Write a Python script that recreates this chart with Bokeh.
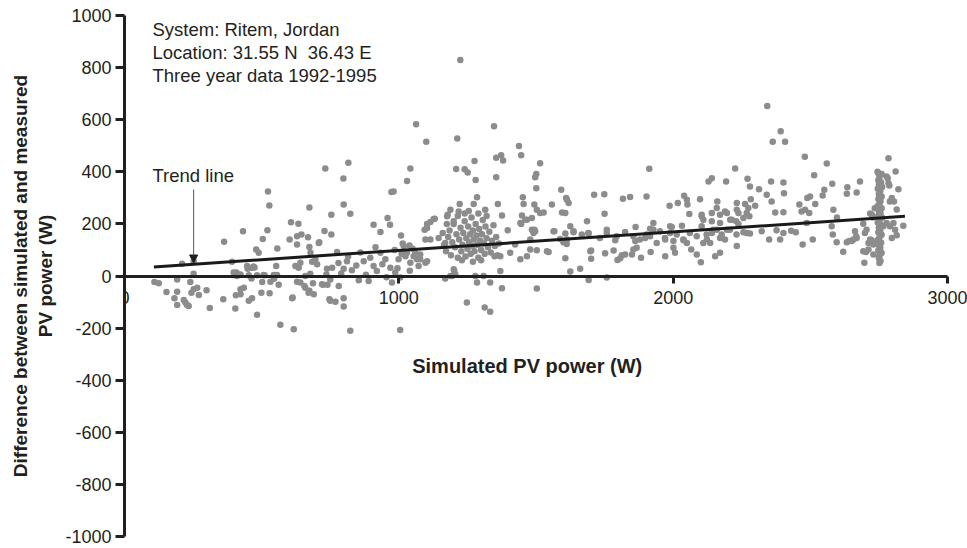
from bokeh.plotting import figure
from bokeh.models import Range1d, Label, Arrow, NormalHead, FixedTicker
from bokeh.embed import file_html
from bokeh.resources import INLINE

# ---------------- data ----------------
points = [
    # low power region
    (109, -23), (125, -28), (153, -61), (182, -85), (192, -13), (192, -60), (192, -111),
    (210, 47), (216, -92), (222, -102), (228, -111), (234, -115), (240, -23), (244, -64),
    (252, 57), (252, 9), (252, -51), (265, -45), (271, -73), (299, -55), (311, -123),
    (360, -89), (363, 131), (392, 55), (398, 13), (404, -125), (406, -74), (408, 13),
    (410, 0), (423, 6), (423, -51), (423, -70), (432, 172), (435, -45), (447, 38),
    (449, 28), (453, -95), (453, 3), (463, -10), (465, -85), (465, 32), (471, 36),
    (474, 33), (480, 102), (483, 3), (483, -149), (489, 89), (499, -64), (502, -23),
    (504, 142), (507, 4), (511, 3), (521, 176), (523, 324), (528, 271), (529, -66),
    (532, -22), (544, 4), (545, -11), (553, 38), (556, 4), (557, 106), (562, -34),
    (568, -187), (602, 140), (607, 206), (611, -85), (613, -83), (617, -204), (623, 38),
    (629, 121), (629, -22), (629, 153), (634, 201), (635, 32), (641, -25), (641, 51),
    (645, 159), (656, -38), (659, 0), (659, -45), (669, 149), (671, -64), (674, 263),
    (674, 111), (674, -57), (677, 9), (678, 89), (684, 55), (687, -28), (690, -70),
    (696, 64), (702, 45), (708, 127), (710, 130), (720, -32), (724, -34), (729, 173),
    (732, 413), (736, 6), (738, 28), (740, -34), (747, -89), (750, -13), (750, -95),
    (754, 235), (754, 159),
    # 750 - 1160 W
    (757, 32), (769, -99), (775, 92), (780, 50), (781, -38), (790, 10), (798, 374),
    (799, 28), (799, -85), (799, -117), (799, 274), (811, 57), (815, 75), (816, 435),
    (823, 239), (823, -210), (829, 22), (845, 40), (854, -16), (860, 90), (872, 57),
    (880, 5), (890, -19), (896, 70), (908, 197), (908, 38), (915, 110), (920, 19),
    (933, 169), (933, 89), (940, 45), (951, 64), (955, -5), (959, 223), (968, 197),
    (969, 32), (973, 322), (975, -25), (981, 324), (985, 100), (987, 13), (995, 30),
    (999, 64), (1005, -6), (1005, -207), (1008, 155), (1010, 85), (1014, 125),
    (1018, 115), (1024, 76), (1030, 89), (1030, 365), (1039, 117), (1040, 20),
    (1042, 413), (1042, 51), (1050, 105), (1054, 76), (1060, 89), (1063, 583),
    (1066, 64), (1072, 38), (1078, 83), (1078, 64), (1094, 178), (1097, 140),
    (1097, 51), (1100, 515), (1103, 200), (1103, 184), (1103, 57), (1115, 207),
    (1115, 140), (1127, 219), (1131, 220), (1145, 146), (1169, 127), (1169, -10),
    (1176, 229), (1178, 235), (1188, 254), (1188, 0),
    # dense cluster 1160 - 1370 W
    (1165, 120), (1172, 95), (1180, 150), (1185, 175), (1190, 80), (1195, 130),
    (1200, 200), (1205, 110), (1210, 160), (1215, 70), (1220, 140), (1225, 185),
    (1228, 95), (1232, 120), (1235, 165), (1240, 210), (1243, 75), (1246, 145),
    (1250, 105), (1253, 190), (1256, 130), (1260, 160), (1262, 85), (1265, 225),
    (1268, 115), (1270, 175), (1273, 140), (1276, 95), (1280, 200), (1283, 155),
    (1286, 120), (1290, 70), (1293, 180), (1296, 135), (1300, 100), (1303, 160),
    (1306, 215), (1310, 125), (1313, 85), (1316, 190), (1320, 145), (1325, 110),
    (1330, 170), (1335, 90), (1340, 135), (1345, 195), (1350, 115), (1355, 150),
    (1360, 80), (1365, 125), (1240, 240), (1255, 250), (1230, 60), (1270, 55),
    (1215, 230), (1290, 240), (1175, 200), (1160, 165), (1320, 230), (1300, 60),
    (1194, 0), (1200, 26), (1202, 19), (1206, 6), (1200, 210), (1209, 411),
    (1213, 528), (1218, 248), (1222, 276), (1224, 829), (1240, 410), (1248, -102),
    (1251, 397), (1273, 276), (1276, 441), (1279, 0), (1280, 369), (1285, 302),
    (1285, -25), (1309, 0), (1313, -121), (1315, 254), (1333, -137), (1333, -25),
    (1347, 575), (1349, 76), (1355, 454), (1355, 379), (1361, 276), (1370, 76),
    (1370, 19), (1373, 464), (1376, 232), (1376, -47), (1380, 443),
    # 1390 - 2200 W
    (1397, 176), (1406, 89), (1424, 121), (1438, 499), (1443, 64), (1443, 203),
    (1446, 464), (1446, 200), (1449, 232), (1452, 302), (1455, 276), (1461, 216),
    (1467, 216), (1467, 76), (1479, 140), (1479, 102), (1485, 223), (1485, 178),
    (1491, 165), (1494, 274), (1494, 178), (1497, 379), (1497, 172), (1501, 392),
    (1501, 337), (1503, 99), (1503, -48), (1503, 254), (1515, 433), (1515, 242),
    (1528, 244), (1540, 95), (1546, 92), (1558, 274), (1564, 172), (1567, 172),
    (1588, 142), (1592, 331), (1595, 244), (1600, 130), (1607, 163), (1607, 68),
    (1607, 242), (1610, 299), (1612, 123), (1613, 293), (1613, 140), (1619, 280),
    (1625, 191), (1625, 17), (1637, 168), (1637, 172), (1661, 28), (1667, 159),
    (1686, 210), (1691, 165), (1692, 163), (1692, -15), (1698, 95), (1701, 98),
    (1701, 66), (1712, 312), (1733, 146), (1749, 314), (1750, 239), (1752, 87),
    (1758, 178), (1758, 165), (1758, -6), (1783, 98), (1789, 137), (1794, 153),
    (1797, 61), (1807, 68), (1813, 80), (1817, 297), (1825, 169), (1825, 83),
    (1843, 303), (1850, 83), (1855, 102), (1855, 153), (1862, 134), (1863, 188),
    (1867, 108), (1879, 140), (1883, 70), (1898, 146), (1903, 305), (1903, 159),
    (1913, 412), (1916, 181), (1916, 153), (1918, 92), (1928, 203), (1928, 178),
    (1940, 127), (1952, 172), (1970, 146), (1971, 140), (1971, 76), (1987, 270),
    (1989, 165), (1989, 191), (1995, 188), (2001, 134), (2001, 108), (2007, 89),
    (2013, 159), (2017, 280), (2032, 193), (2037, 140), (2038, 137), (2040, 308),
    (2050, 293), (2050, 127), (2052, 274), (2059, 238), (2061, 165), (2066, 102),
    (2086, 83), (2086, 153), (2098, 295), (2101, 53), (2104, 235), (2104, 229),
    (2104, 191), (2110, 216), (2110, 127), (2122, 159), (2123, 140), (2129, 363),
    (2135, 127), (2141, 375), (2141, 210), (2141, 165), (2141, 242), (2146, 178),
    (2153, 76), (2159, 178), (2159, 261), (2161, 286), (2171, 235), (2171, 203),
    (2171, 146), (2171, 89), (2177, 159), (2189, 140), (2189, 248), (2193, 363),
    (2196, 242), (2196, 178), (2207, 178),
    # 2200 - 2850 W
    (2208, 216), (2214, 216), (2226, 413), (2230, 210), (2231, 159), (2232, 280),
    (2232, 254), (2232, 115), (2238, 242), (2238, 200), (2256, 168), (2256, 223),
    (2262, 276), (2268, 242), (2268, 165), (2271, 373), (2274, 261), (2278, 229),
    (2280, 344), (2280, 163), (2283, 295), (2299, 270), (2313, 333), (2323, 172),
    (2341, 312), (2343, 653), (2350, 140), (2357, 363), (2359, 286), (2363, 515),
    (2372, 244), (2377, 176), (2390, 140), (2392, 556), (2402, 359), (2402, 245),
    (2402, 165), (2404, 318), (2408, 515), (2430, 174), (2447, 168), (2460, 274),
    (2468, 248), (2472, 121), (2480, 458), (2481, 254), (2487, 203), (2489, 299),
    (2496, 242), (2499, 305), (2509, 140), (2514, 387), (2518, 276), (2545, 309),
    (2551, 331), (2560, 432), (2578, 191), (2580, 354), (2582, 159), (2584, 254),
    (2596, 130), (2597, 225), (2620, 93), (2633, 316), (2633, 130), (2635, 341),
    (2642, 134), (2651, 134), (2657, 140), (2663, 172), (2667, 153), (2669, 321),
    (2669, 146), (2681, 363), (2693, 201), (2693, 95), (2697, 51), (2699, 165),
    (2703, 92), (2705, 178), (2712, 127), (2712, 102), (2718, 140), (2718, 240),
    (2724, 235), (2724, 137), (2728, 225), (2730, 121), (2730, 83), (2735, 260),
    (2745, 400), (2760, 392), (2752, 380), (2748, 368), (2758, 360), (2750, 350),
    (2762, 342), (2746, 335), (2755, 325), (2750, 315), (2760, 305), (2748, 296),
    (2756, 288), (2752, 278), (2745, 268), (2760, 260), (2750, 250), (2756, 240),
    (2748, 232), (2762, 224), (2752, 214), (2746, 205), (2758, 196), (2750, 186),
    (2755, 176), (2748, 168), (2760, 158), (2752, 148), (2746, 138), (2758, 128),
    (2750, 118), (2755, 108), (2748, 98), (2760, 88), (2752, 78), (2750, 68),
    (2756, 58), (2752, 50),
    (2748, 394), (2754, 388), (2766, 191), (2778, 203), (2778, 382), (2782, 375),
    (2785, 452), (2785, 356), (2788, 347), (2790, 191), (2790, 286), (2797, 299),
    (2797, 146), (2803, 203), (2805, 286), (2809, 178), (2811, 401), (2815, 255),
    (2815, 156), (2821, 333), (2839, 193),
]
sim_power = [pt[0] for pt in points]      # simulated PV power (W)
diff_power = [pt[1] for pt in points]     # simulated - measured (W)

trend_x = [107, 2845]
trend_y = [35, 229]

x_ticks = [0, 1000, 2000, 3000]
y_ticks = [-1000, -800, -600, -400, -200, 0, 200, 400, 600, 800, 1000]
y_tick_labels = ["-1000", "-800", "-600", "-400", "-200", "0", "200", "400", "600", "800", "1000"]

info_lines = ["System: Ritem, Jordan", "Location: 31.55 N\u00a0 36.43 E", "Three year data 1992-1995"]
info_y = [947, 859, 771]

FONT = "Liberation Sans"
INK = "#231f20"

p = figure(width=967, height=548, output_backend="svg", toolbar_location=None,
           x_range=Range1d(0, 3073), y_range=Range1d(-1000, 1000),
           min_border_left=124, min_border_right=0, min_border_top=15, min_border_bottom=12)
p.outline_line_color = None
p.grid.visible = False
p.background_fill_color = "white"

p.scatter(sim_power, diff_power, size=6.5, fill_color="#8c8c8c", line_color=None)
p.line(trend_x, trend_y, line_color="#1a1a1a", line_width=3)

# x axis drawn through y = 0
xa = p.xaxis[0]
xa.fixed_location = 0
xa.bounds = (0, 3000)
xa.ticker = FixedTicker(ticks=x_ticks)
xa.minor_tick_line_color = None
xa.major_tick_in = 0
xa.major_tick_out = 7
xa.major_tick_line_width = 3
xa.major_tick_line_color = INK
xa.axis_line_width = 3
xa.axis_line_color = INK
xa.major_label_text_font = FONT
xa.major_label_text_font_size = "18px"
xa.major_label_text_color = INK
xa.major_label_standoff = 8

ya = p.yaxis[0]
ya.ticker = FixedTicker(ticks=y_ticks)
ya.major_label_overrides = {t: s for t, s in zip(y_ticks, y_tick_labels)}
ya.minor_tick_line_color = None
ya.major_tick_in = 0
ya.major_tick_out = 9
ya.major_tick_line_width = 3
ya.major_tick_line_color = INK
ya.axis_line_width = 3
ya.axis_line_color = INK
ya.major_label_text_font = FONT
ya.major_label_text_font_size = "18px"
ya.major_label_text_color = INK
ya.major_label_standoff = 4
ya.axis_label = "Difference between simulated and measured\nPV power (W)"
ya.axis_label_text_font = FONT
ya.axis_label_text_font_style = "bold"
ya.axis_label_text_font_size = "19px"
ya.axis_label_text_color = INK
ya.axis_label_standoff = 6

# x-axis title (placed below the axis, as in the reference)
p.add_layout(Label(x=1468, y=-344, text="Simulated PV power (W)", text_font=FONT,
                   text_font_style="bold", text_font_size="20px", text_color=INK,
                   text_align="center", text_baseline="middle"))

for txt, yy in zip(info_lines, info_y):
    p.add_layout(Label(x=102, y=yy, text=txt, text_font=FONT, text_font_size="18.5px",
                       text_color=INK, text_baseline="middle"))

p.add_layout(Label(x=102, y=385, text="Trend line", text_font=FONT, text_font_size="18.5px",
                   text_color=INK, text_baseline="middle"))
p.add_layout(Arrow(end=NormalHead(size=8, fill_color=INK, line_color=INK),
                   x_start=252, y_start=332, x_end=252, y_end=50,
                   line_color="#555555", line_width=1))

open("out.html", "w").write(file_html(p, INLINE))
